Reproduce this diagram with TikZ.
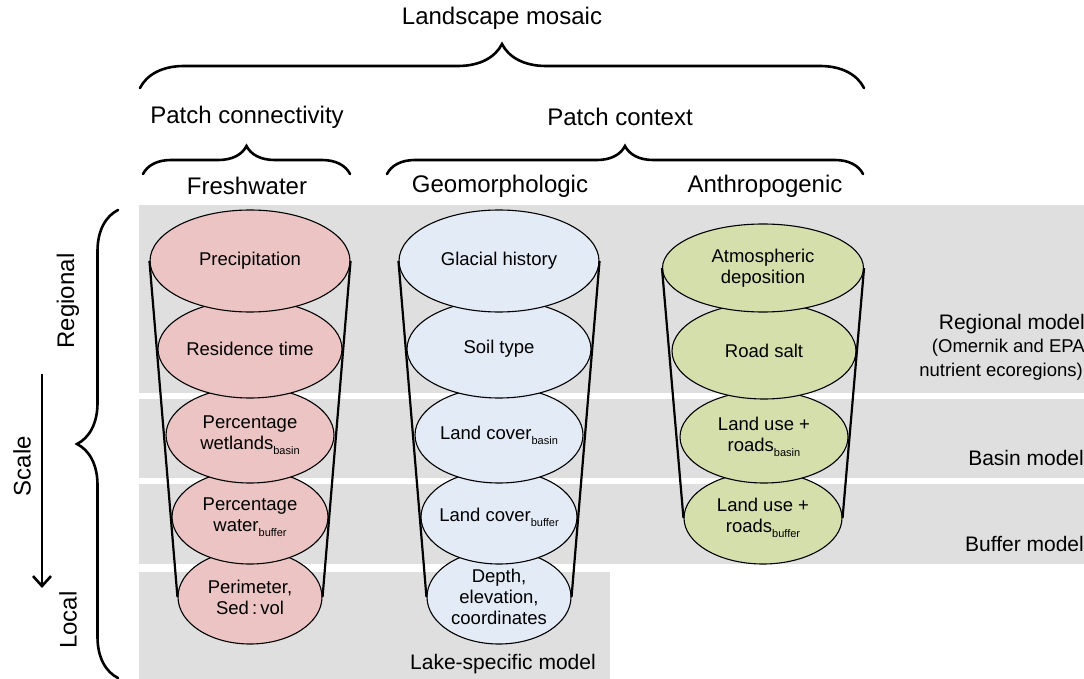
\documentclass[tikz,border=0pt]{standalone}
\usepackage{fontspec}
\setmainfont{Liberation Sans}
\usepackage{tikz}
\usetikzlibrary{shapes.geometric,decorations.pathreplacing,arrows.meta}

\definecolor{bandgray}{RGB}{223,223,223}
\definecolor{freshpink}{RGB}{236,196,196}
\definecolor{geoblue}{RGB}{227,235,246}
\definecolor{anthgreen}{RGB}{212,223,172}

\newcommand{\sub}[1]{\raisebox{-5pt}{\fontsize{11}{11}\selectfont #1}}

\begin{document}
\begin{tikzpicture}
	[
	x=1pt, y=-1pt,
	align=center,
	band/.style={fill=bandgray},
	layer/.style n args={3}{ellipse, draw, line width=1.1pt, inner sep=0pt,
		minimum width=#1, minimum height=#2, fill=#3},
	every label/.style={font=\fontsize{18.5}{21}\selectfont, align=center, inner sep=0pt},
	head/.style={font=\fontsize{24}{28}\selectfont, inner sep=0pt},
	model/.style={font=\fontsize{21}{25}\selectfont, inner sep=0pt},
	note/.style={font=\fontsize{18.5}{22}\selectfont, inner sep=0pt},
	cone/.style={line width=2.2pt},
	bracket/.style={decorate, decoration={brace, amplitude=#1}, line width=2.6pt, line cap=round},
	scalearrow/.style={line width=2.6pt, -{Straight Barb[length=10pt,width=18pt]}},
	]
		\useasboundingbox (0,0) rectangle (1084,679);
		
		% model bands
		\fill[band] (139,205) rectangle (1084,393);
		\fill[band] (139,399) rectangle (1084,478);
		\fill[band] (139,484) rectangle (1084,564);
		\fill[band] (139,572) rectangle (610,679);
		
		% freshwater (lowest first)
		\node[layer={144}{94}{freshpink}, label={center:{Perimeter,\\Sed\,:\,vol}}] (fw5) at 		(250,597) {};
		\node[layer={156}{94}{freshpink}, label={center:{Percentage\\water\sub{buffer}}}] (fw4) at 		(250,517) {};
		\node[layer={168}{96}{freshpink}, label={center:{Percentage\\wetlands\sub{basin}}}] (fw3) at 		(250,435) {};
		\node[layer={184}{98}{freshpink}, label={center:{Residence time}}] (fw2) at 		(250,349) {};
		\node[layer={200}{102}{freshpink}, label={center:{Precipitation}}] (fw1) at 		(250,261) {};
		
		% geomorphologic
		\node[layer={144}{94}{geoblue}, label={center:{Depth,\\elevation,\\coordinates}}] (geo5) at 		(499,597) {};
		\node[layer={156}{94}{geoblue}, label={center:{Land cover\sub{buffer}}}] (geo4) at 		(499,517) {};
		\node[layer={168}{96}{geoblue}, label={center:{Land cover\sub{basin}}}] (geo3) at 		(499,435) {};
		\node[layer={184}{98}{geoblue}, label={center:{Soil type}}] (geo2) at 		(499,349) {};
		\node[layer={200}{102}{geoblue}, label={center:{Glacial history}}] (geo1) at 		(499,261) {};
		
		% anthropogenic
		\node[layer={158}{92}{anthgreen}, label={center:{Land use +\\roads\sub{buffer}}}] (an4) at 		(763,518) {};
		\node[layer={168}{92}{anthgreen}, label={center:{Land use +\\roads\sub{basin}}}] (an3) at 		(764,437) {};
		\node[layer={184}{96}{anthgreen}, label={center:{Road salt}}] (an2) at 		(764,351) {};
		\node[layer={201}{88}{anthgreen}, label={center:{Atmospheric\\deposition}}] (an1) at 		(763,268) {};
		
		\foreach \from/\to in {fw1/fw5,geo1/geo5,an1/an4} {
			\draw[cone] (\from.west) -- (\to.west);
			\draw[cone] (\from.east) -- (\to.east);
		}
		
		% headings
		\node[head] (mosaic) at 		(502,18) {Landscape mosaic};
		\node[head] (connect) at 		(247,117) {Patch connectivity};
		\node[head] (context) at 		(620,117) {Patch context};
		\node[head] (freshw) at 		(247,186) {Freshwater};
		\node[head] (geomorph) at 		(500,186) {Geomorphologic};
		\node[head] (anthrop) at 		(765,186) {Anthropogenic};
		
		% braces
		\coordinate (mosL) at (140,88);
		\coordinate (mosR) at (864,88);
		\coordinate (conL) at (143,174);
		\coordinate (conR) at (350,174);
		\coordinate (ctxL) at (387,174);
		\coordinate (ctxR) at (863,174);
		\coordinate (sclB) at (118,678);
		\coordinate (sclT) at (118,210);
		\draw[bracket=44] (mosL) -- (mosR);
		\draw[bracket=28] (conL) -- (conR);
		\draw[bracket=28] (ctxL) -- (ctxR);
		\draw[bracket=41] (sclB) -- (sclT);
		
		% scale axis
		\node[head, rotate=90] (regional) at 		(68,301) {Regional};
		\node[head, rotate=90] (scale) at 		(22,466) {Scale};
		\node[head, rotate=90] (local) at 		(68,620) {Local};
		\coordinate (arrT) at (42,374);
		\coordinate (arrB) at (42,588);
		\draw[scalearrow] (arrT) -- (arrB);
		
		% model names
		\node[model, anchor=east] (regm) at 		(1085,324) {Regional model};
		\node[note, anchor=east] (omer) at 		(1085,348) {(Omernik and EPA};
		\node[note, anchor=east] (ecor) at 		(1083,372) {nutrient ecoregions)};
		\node[model, anchor=east] (basm) at 		(1084,458) {Basin model};
		\node[model, anchor=east] (bufm) at 		(1084,544) {Buffer model};
		\node[model] (lakm) at 		(503,664) {Lake-specific model};
		
	\end{tikzpicture}
\end{document}
